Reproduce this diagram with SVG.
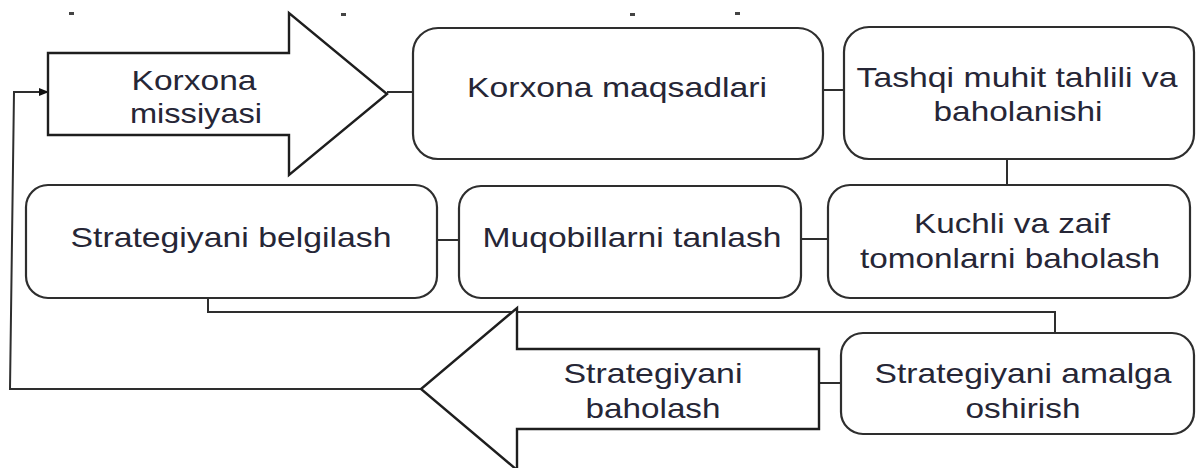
<svg xmlns="http://www.w3.org/2000/svg" width="1196" height="468" viewBox="0 0 1196 468">
<style>
.box{fill:#fff;stroke:#2e2e2e;stroke-width:2.2}
.arr{fill:#fff;stroke:#1e1e1e;stroke-width:2.4;stroke-linejoin:miter}
.ln{fill:none;stroke:#2e2e2e;stroke-width:2}
.t{font-family:"Liberation Sans",Arial,sans-serif;font-size:28px;fill:#262636;text-anchor:middle}
.mk{fill:#444}
</style>
<defs>
<marker id="ah" markerWidth="10" markerHeight="10" refX="9" refY="5" orient="auto" markerUnits="userSpaceOnUse">
<path d="M0,1 L10,5 L0,9 Z" fill="#111"/>
</marker>
</defs>
<rect width="1196" height="468" fill="#fff"/>
<g id="fragments">
<rect class="mk" x="69" y="12" width="5" height="3"/>
<rect class="mk" x="341" y="13" width="5" height="3"/>
<rect class="mk" x="630" y="13" width="5" height="3"/>
<rect class="mk" x="735" y="12" width="5" height="3"/>
</g>
<g id="connectors">
<line class="ln" x1="387" y1="92" x2="413" y2="92"/>
<line class="ln" x1="823" y1="90" x2="844" y2="90"/>
<line class="ln" x1="1007" y1="159" x2="1007" y2="185"/>
<line class="ln" x1="801" y1="239" x2="828" y2="239"/>
<line class="ln" x1="437" y1="240" x2="459" y2="240"/>
<polyline class="ln" points="208,298 208,312 1055,312 1055,333"/>
<line class="ln" x1="819" y1="383" x2="841" y2="383"/>
<polyline class="ln" points="421,389 10,389 14,92 48,92" marker-end="url(#ah)"/>
</g>
<g id="n-missiya">
<polygon class="arr" points="48,53 289,53 289,13 387,94 289,175 289,135 48,135"/>
<text class="t" x="194" y="90" textLength="125" lengthAdjust="spacingAndGlyphs">Korxona</text>
<text class="t" x="196" y="123" textLength="132" lengthAdjust="spacingAndGlyphs">missiyasi</text>
</g>
<g id="n-maqsad">
<rect class="box" x="413" y="28" width="410" height="131" rx="25"/>
<text class="t" x="617" y="97" textLength="300" lengthAdjust="spacingAndGlyphs">Korxona maqsadlari</text>
</g>
<g id="n-tashqi">
<rect class="box" x="844" y="27" width="350" height="132" rx="25"/>
<text class="t" x="1017" y="87" textLength="321" lengthAdjust="spacingAndGlyphs">Tashqi muhit tahlili va</text>
<text class="t" x="1018" y="121" textLength="169" lengthAdjust="spacingAndGlyphs">baholanishi</text>
</g>
<g id="n-kuchli">
<rect class="box" x="828" y="185" width="362" height="113" rx="22"/>
<text class="t" x="1012" y="233" textLength="196" lengthAdjust="spacingAndGlyphs">Kuchli va zaif</text>
<text class="t" x="1010" y="268" textLength="300" lengthAdjust="spacingAndGlyphs">tomonlarni baholash</text>
</g>
<g id="n-muqobil">
<rect class="box" x="459" y="186" width="342" height="112" rx="22"/>
<text class="t" x="632" y="247" textLength="299" lengthAdjust="spacingAndGlyphs">Muqobillarni tanlash</text>
</g>
<g id="n-belgilash">
<rect class="box" x="26" y="185" width="411" height="113" rx="22"/>
<text class="t" x="231" y="247" textLength="321" lengthAdjust="spacingAndGlyphs">Strategiyani belgilash</text>
</g>
<g id="n-baholash">
<polygon class="arr" points="819,349 517,349 517,308 421,389 517,470 517,429 819,429"/>
<text class="t" x="653" y="383" textLength="179" lengthAdjust="spacingAndGlyphs">Strategiyani</text>
<text class="t" x="653" y="418" textLength="135" lengthAdjust="spacingAndGlyphs">baholash</text>
</g>
<g id="n-amalga">
<rect class="box" x="841" y="333" width="353" height="101" rx="22"/>
<text class="t" x="1023" y="383" textLength="297" lengthAdjust="spacingAndGlyphs">Strategiyani amalga</text>
<text class="t" x="1023" y="418" textLength="115" lengthAdjust="spacingAndGlyphs">oshirish</text>
</g>
</svg>
